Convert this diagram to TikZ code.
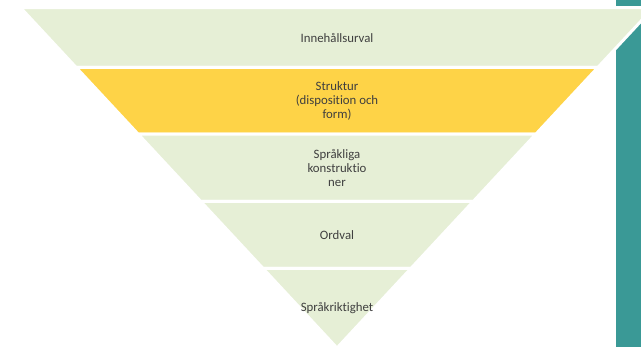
\documentclass[tikz,border=0pt]{standalone}
\usepackage{fontspec}
\setmainfont{Carlito}[Ligatures=CommonOff]
\definecolor{kgreen}{HTML}{E6EFD6}
\definecolor{kyellow}{HTML}{FED347}
\definecolor{kteal}{HTML}{3A9996}
\definecolor{ktext}{HTML}{3F3F3F}
\tikzset{band/.style={draw=white,line width=3pt,line join=miter},
  bandlabel/.style={align=center,text=ktext,font=\fontsize{12.8}{14}\selectfont,inner sep=0pt}}
\begin{document}
\begin{tikzpicture}[x=1pt,y=-1pt]
\pgfmathsetmacro{\kcx}{337}
\pgfmathsetmacro{\kapex}{348}
\pgfmathsetmacro{\kslope}{0.93}
\useasboundingbox (0,0) rectangle (641,347);
\clip (0,0) rectangle (641,347);
\fill[kteal] (616,0) rectangle (641,347);
\foreach \ktop/\kbot/\kcol/\kname/\klb in {7.7/67.5/kgreen/urval/{Innehållsurval},67.5/134.2/kyellow/struktur/{Struktur\\(disposition och\\form)},134.2/201.5/kgreen/konstr/{Språkliga\\konstruktio\\ner},201.5/268.4/kgreen/ordval/{Ordval},268.4/348/kgreen/riktig/{Språkriktighet}}{
\pgfmathsetmacro{\kwt}{(\kapex-\ktop)*\kslope}
\pgfmathsetmacro{\kwb}{(\kapex-\kbot)*\kslope}
\draw[band,fill=\kcol](\kcx-\kwt,\ktop)--(\kcx+\kwt,\ktop)--(\kcx+\kwb,\kbot)--(\kcx-\kwb,\kbot)--cycle;
\node[bandlabel](\kname) at (\kcx,{(\ktop+\kbot)/2}){\klb};
}
\end{tikzpicture}
\end{document}
